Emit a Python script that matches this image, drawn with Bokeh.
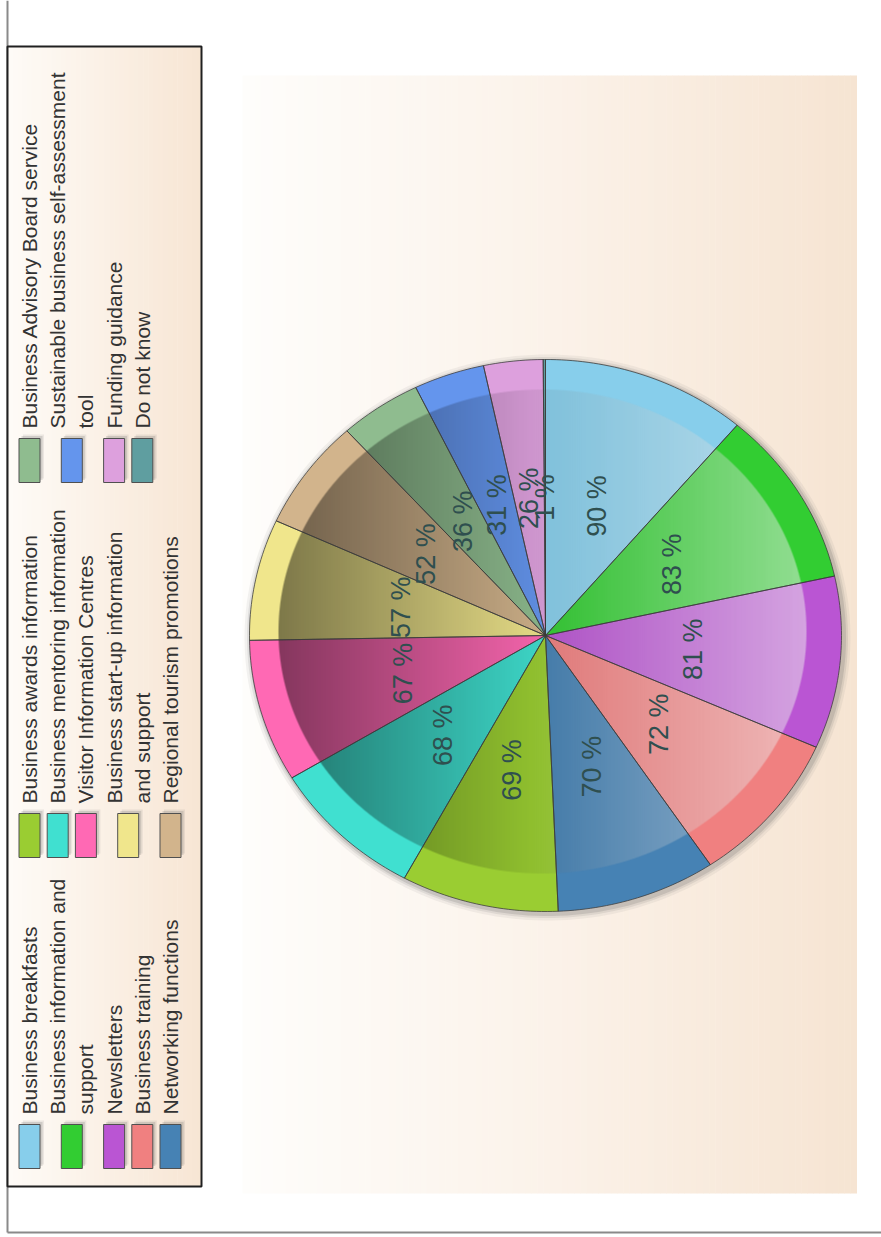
import numpy as np
from bokeh.plotting import figure
from bokeh.models import ColumnDataSource, Range1d
from bokeh.core.properties import value
from bokeh.embed import file_html
from bokeh.resources import INLINE

# ---------------- data ----------------
categories = ["Business breakfasts", "Business information and support", "Newsletters",
              "Business training", "Networking functions", "Business awards information",
              "Business mentoring information", "Visitor Information Centres",
              "Business start-up information and support", "Regional tourism promotions",
              "Business Advisory Board service", "Sustainable business self-assessment tool",
              "Funding guidance", "Do not know"]
values = [90, 83, 81, 72, 70, 69, 68, 67, 57, 52, 36, 31, 26, 1]
colors = ["#87CEEB", "#32CD32", "#BA55D3", "#F08080", "#4682B4", "#9ACD32", "#40E0D0",
          "#FF69B4", "#F0E68C", "#D2B48C", "#8FBC8F", "#6495ED", "#DDA0DD", "#5F9EA0"]
legend_lines = [["Business breakfasts"], ["Business information and", "support"], ["Newsletters"],
                ["Business training"], ["Networking functions"], ["Business awards information"],
                ["Business mentoring information"], ["Visitor Information Centres"],
                ["Business start-up information", "and support"], ["Regional tourism promotions"],
                ["Business Advisory Board service"], ["Sustainable business self-assessment", "tool"],
                ["Funding guidance"], ["Do not know"]]
legend_groups = [5, 5, 4]

# ---------------- layout ----------------
W, H = 881, 1237
def Y(sy):
    return H - np.asarray(sy, dtype=float)

p = figure(width=W, height=H, x_range=Range1d(0, W), y_range=Range1d(0, H),
           output_backend="svg", toolbar_location=None, min_border=0)
p.axis.visible = False
p.grid.visible = False
p.outline_line_color = None
p.background_fill_color = "white"
p.border_fill_color = "white"

def hex2rgb(h):
    h = h.lstrip("#")
    return np.array([int(h[i:i + 2], 16) for i in (0, 2, 4)], dtype=float)

def rgb2hex(c):
    c = np.clip(np.round(c), 0, 255).astype(int)
    return "#%02x%02x%02x" % tuple(c)

def grad(stops, t):
    ts = [s[0] for s in stops]
    cs = [hex2rgb(s[1]) for s in stops]
    out = []
    for tt in t:
        r = np.array([np.interp(tt, ts, [c[k] for c in cs]) for k in range(3)])
        out.append(rgb2hex(r))
    return out

# outer frame lines
p.segment(x0=[7, 7], y0=Y([0, 1232]), x1=[7, W], y1=Y([1232, 1232]),
          line_color="#8a8a8a", line_width=2)

# plot-area gradient background
bx0, bx1, by0, by1 = 242, 856, 75, 1193
nb = 100
ex = np.linspace(bx0, bx1, nb + 1)
tb = (ex[:-1] - bx0) / (bx1 - bx0)
p.quad(left=ex[:-1], right=ex[1:] + 0.5, top=Y([by0] * nb), bottom=Y([by1] * nb),
       fill_color=grad([(0, "#fefdfb"), (0.5, "#fbf2e9"), (1, "#f6e4d2")], tb), line_color=None)

# legend box
lx0, lx1, ly0, ly1 = 7, 201, 46, 1186
nl = 40
el = np.linspace(lx0, lx1, nl + 1)
tl = (el[:-1] - lx0) / (lx1 - lx0)
p.quad(left=el[:-1], right=el[1:] + 0.5, top=Y([ly0] * nl), bottom=Y([ly1] * nl),
       fill_color=grad([(0, "#fefbf7"), (1, "#f7e5d3")], tl), line_color=None)
p.quad(left=[lx0], right=[lx1], top=Y([ly0]), bottom=Y([ly1]), fill_color=None,
       line_color="#202020", line_width=2)

# ---------------- pie ----------------
cx, cy, rx, ry = 545, 635, 296, 276
icx, icy, irx, iry = 542, 631, 264, 242
vals = np.array(values, dtype=float)
total = vals.sum()
ends = np.cumsum(vals) / total * 2 * np.pi
starts = np.concatenate([[0], ends[:-1]])

# shadow
th = np.linspace(0, 2 * np.pi, 240)
for grow, alpha in [(7, 0.08), (4.5, 0.12), (2.5, 0.18)]:
    p.patch(cx + 2 + (rx + grow) * np.sin(th), Y(cy + 2 - (ry + grow) * np.cos(th)),
            fill_color="#606060", fill_alpha=alpha, line_color=None)

sx, sy_ = [], []
for a0, a1 in zip(starts, ends):
    n = max(3, int((a1 - a0) / (2 * np.pi) * 360))
    a = np.linspace(a0, a1, n)
    xs = np.concatenate([[cx], cx + rx * np.sin(a)])
    ys = np.concatenate([[cy], cy - ry * np.cos(a)])
    sx.append(xs.tolist())
    sy_.append(Y(ys).tolist())
src = ColumnDataSource(dict(xs=sx, ys=sy_, color=colors, cat=categories))
p.patches("xs", "ys", source=src, fill_color="color", line_color=None)

# inner shading overlay (soft-edge 3D look) as an RGBA image
gx0, gx1 = icx - irx - 2, icx + irx + 2
gy0, gy1 = Y(icy + iry + 2), Y(icy - iry - 2)   # data-space bottom/top
nxp, nyp = int(gx1 - gx0), int(gy1 - gy0)
xc = gx0 + np.arange(nxp) + 0.5
yc = gy0 + np.arange(nyp) + 0.5                  # row 0 = bottom
XX, YY = np.meshgrid(xc, yc)
rho = np.sqrt(((XX - icx) / irx) ** 2 + ((YY - Y(icy)) / iry) ** 2)
cover = np.clip(0.5 - (rho - 1) * 250, 0, 1)
tt_ = (XX - (icx - irx)) / (2 * irx)
s = -0.44 + 0.92 * tt_
base_dark = 0.07
# combine uniform darkening with gradient: result = base*m + 255*w
m = np.where(s < 0, (1 - base_dark) * (1 + s), (1 - base_dark) * (1 - s))
wv = np.where(s < 0, 0.0, s)
# express as single overlay colour c with alpha A: base*(1-A) + c*A
A = (1 - m) * cover
cval = np.where(A > 1e-6, 255 * wv * cover / np.maximum(A, 1e-6), 0)
img = np.zeros((nyp, nxp), dtype=np.uint32)
view = img.view(dtype=np.uint8).reshape((nyp, nxp, 4))
cv = np.clip(np.round(cval), 0, 255).astype(np.uint8)
view[:, :, 0] = cv
view[:, :, 1] = cv
view[:, :, 2] = cv
view[:, :, 3] = np.clip(np.round(A * 255), 0, 255).astype(np.uint8)
p.image_rgba(image=[img], x=gx0, y=gy0, dw=nxp, dh=nyp)

# slice outlines
p.patches("xs", "ys", source=src, fill_color=None, line_color="#3a3a3a",
          line_width=0.9, line_alpha=0.85)

# percentage labels
mids = (starts + ends) / 2
lab = ColumnDataSource(dict(x=cx + 0.5 * rx * np.sin(mids), y=Y(cy - 0.5 * ry * np.cos(mids)),
                            t=["%d %%" % v for v in values]))
p.text("x", "y", text="t", source=lab, angle=np.pi / 2, text_align="center",
       text_baseline="middle", text_font=value("Liberation Sans"), text_font_size="27px",
       text_color="#2f4f4f")

# ---------------- legend ----------------
group_top = [1124, 813, 438]
line_x0, line_dx = 29, 28.2
sw_w, sw_h = 21, 44
sw_l, sw_r, sw_t, sw_b, sw_c = [], [], [], [], []
tx, ty, tt = [], [], []
k = 0
for g, cnt in enumerate(legend_groups):
    line = 0
    for j in range(cnt):
        lines = legend_lines[k]
        centers = [line_x0 + line_dx * (line + mm) for mm in range(len(lines))]
        for c, st in zip(centers, lines):
            tx.append(c)
            ty.append(group_top[g] - 10)
            tt.append(st)
        mc = float(np.mean(centers))
        sw_l.append(mc - sw_w / 2)
        sw_r.append(mc + sw_w / 2)
        sw_t.append(group_top[g])
        sw_b.append(group_top[g] + sw_h)
        sw_c.append(colors[k])
        line += len(lines)
        k += 1

sw_l, sw_r = np.array(sw_l), np.array(sw_r)
sw_t, sw_b = np.array(sw_t, dtype=float), np.array(sw_b, dtype=float)
for off, alpha in [(4, 0.10), (2.5, 0.18)]:
    p.quad(left=sw_l + off, right=sw_r + off, top=Y(sw_t - off), bottom=Y(sw_b - off),
           fill_color="#555555", fill_alpha=alpha, line_color=None)
p.quad(left=sw_l, right=sw_r, top=Y(sw_t), bottom=Y(sw_b), fill_color=sw_c,
       line_color="#505050", line_width=1)
p.text(x=tx, y=Y(ty), text=tt, angle=np.pi / 2, text_align="left", text_baseline="middle",
       text_font=value("Liberation Sans"), text_font_size="21px", text_color="#333333")

open("out.html", "w").write(file_html(p, INLINE))
